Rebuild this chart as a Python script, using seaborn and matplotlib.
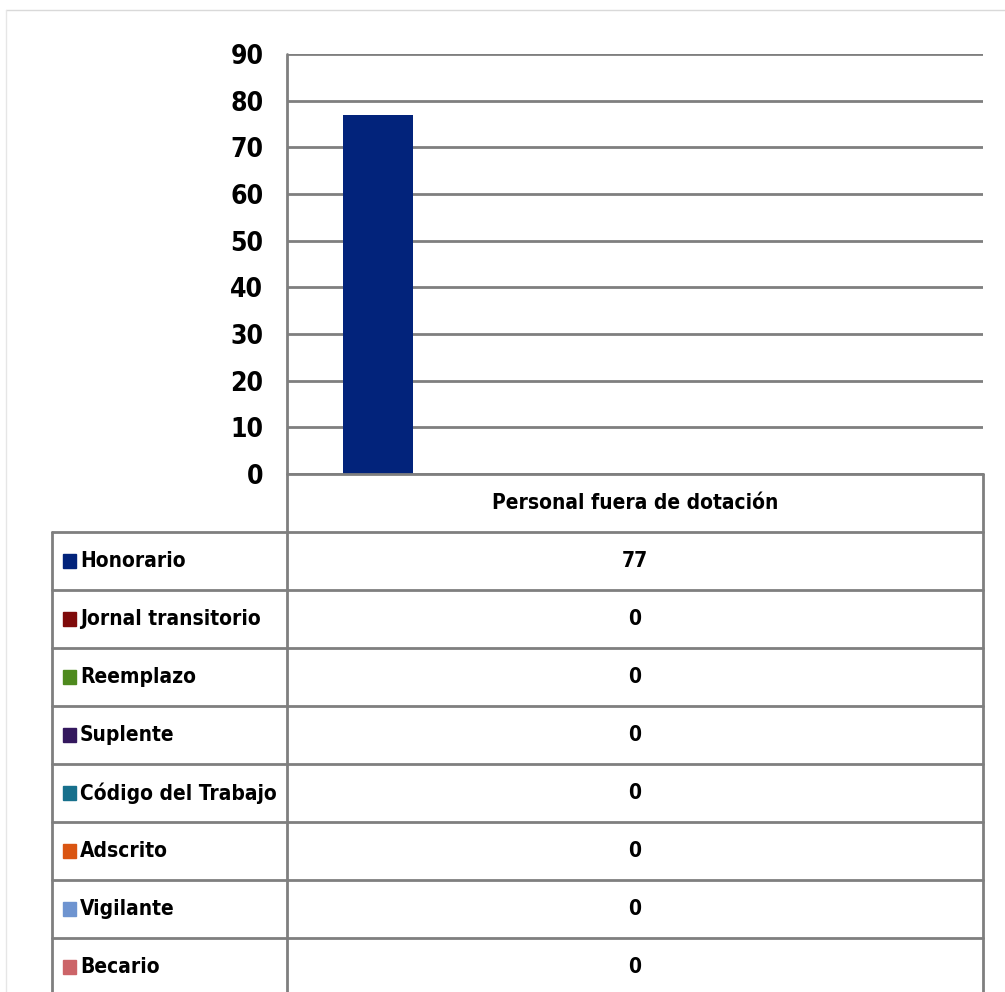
import pandas as pd
import matplotlib
matplotlib.use("Agg")
import matplotlib.pyplot as plt
from matplotlib.patches import Rectangle
from matplotlib.lines import Line2D
import seaborn as sns

# Datos
categoria = ["Personal fuera de dotación"]
series = ["Honorario", "Jornal transitorio", "Reemplazo", "Suplente",
          "Código del Trabajo", "Adscrito", "Vigilante", "Becario"]
valores = [77, 0, 0, 0, 0, 0, 0, 0]
colores = ["#02237B", "#7F0A0A", "#4E8A1E", "#34185E",
           "#17708C", "#DA5512", "#6E94D0", "#CC6468"]
yticks = [0, 10, 20, 30, 40, 50, 60, 70, 80, 90]

df = pd.DataFrame({"categoria": categoria * len(series),
                   "serie": series,
                   "valor": valores})

sns.set_style("white")
plt.rcParams["font.family"] = ["DejaVu Sans"]
plt.rcParams["font.stretch"] = "condensed"
plt.rcParams["text.color"] = "black"

W, H = 1005, 992
fig = plt.figure(figsize=(W / 100, H / 100), dpi=100)

x0, x1, y0, y1 = 287, 983, 54, 474
ax = fig.add_axes([x0 / W, 1 - y1 / H, (x1 - x0) / W, (y1 - y0) / H])
sns.barplot(data=df, x="categoria", y="valor", hue="serie", hue_order=series,
            palette=colores, width=0.805, dodge=True, legend=False,
            saturation=1, linewidth=0, ax=ax)
ax.set_ylim(0, 90)
ax.set_xlim(-0.483, 0.517)
ax.set_yticks(yticks)
ax.set_yticklabels([str(t) for t in yticks], fontsize=19, color="black",
                   stretch="condensed", weight="semibold")
ax.tick_params(axis="y", length=0, pad=17)
ax.set_xticks([])
ax.set_xlabel("")
ax.set_ylabel("")
ax.grid(axis="y", color="#7F7F7F", linewidth=2)
ax.set_axisbelow(True)
for s in ["top", "right", "bottom", "left"]:
    ax.spines[s].set_visible(False)

# Tabla de datos bajo el gráfico
gris = "#7F7F7F"
def px(x, y):
    return x / W, 1 - y / H

fila = 58
tabla_x0 = 52
fila0 = y1 + fila  # fin de la fila de encabezado
n = len(series)
y_fin = fila0 + fila * n

def linea(xa, ya, xb, yb, color=gris, lw=2):
    (a, b), (c, d) = px(xa, ya), px(xb, yb)
    fig.add_artist(Line2D([a, c], [b, d], color=color, linewidth=lw))

# bordes verticales
linea(x0, y0, x0, y_fin)
linea(x1, y1, x1, y_fin)
linea(tabla_x0, fila0, tabla_x0, y_fin)
# bordes horizontales
linea(x0, y1, x1, y1)
for i in range(n + 1):
    yy = fila0 + fila * i
    linea(tabla_x0, yy, x1, yy)

txt = dict(fontsize=15, stretch="condensed", weight="semibold", color="black")

# encabezado de la categoría
fig.text(*px((x0 + x1) / 2, y1 + fila / 2), categoria[0], ha="center",
         va="center", **txt)

for i, (s, v, c) in enumerate(zip(series, valores, colores)):
    yc = fila0 + fila * i + fila / 2
    bx, by = px(63, yc + 7)
    fig.add_artist(Rectangle((bx, by), 13 / W, 14 / H, color=c,
                             transform=fig.transFigure))
    fig.text(*px(80, yc), s, ha="left", va="center", **txt)
    fig.text(*px((x0 + x1) / 2, yc), str(v), ha="center", va="center", **txt)

# marco exterior
linea(6, 10, W, 10, color="#D9D9D9", lw=1)
linea(6, 10, 6, H, color="#E6E6E6", lw=1)

fig.savefig("out.png", dpi=100)
